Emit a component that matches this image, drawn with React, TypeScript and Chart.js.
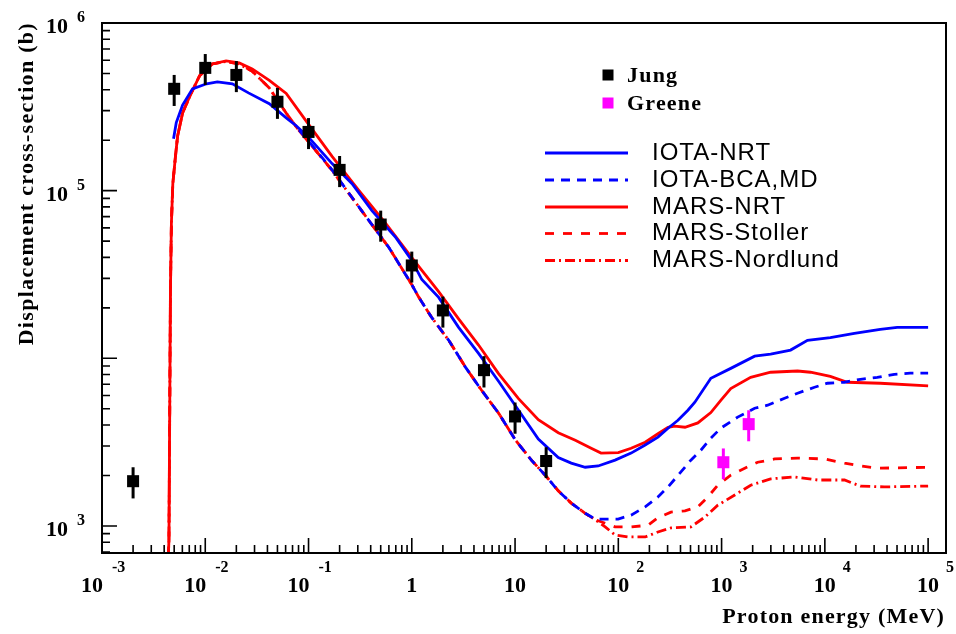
import { useEffect, useRef } from "react";
import { Chart, registerables } from "chart.js";

Chart.register(...registerables);

// ---------- data ----------
const jungX = [0.002, 0.005, 0.01, 0.02, 0.05, 0.1, 0.2, 0.5, 1, 2, 5, 10, 20];
const jungY = [1850, 405000, 540000, 490000, 339000, 224000, 133000, 62800, 35800, 19300, 8500, 4500, 2440];
const jungErr = [390, 85000, 113000, 103000, 71000, 47000, 28000, 13200, 7500, 4050, 1800, 950, 510];

const greeneX = [1040, 1830];
const greeneY = [2400, 4050];
const greeneErr = [500, 850];

const iotaNrtX = [4.93e-3, 5.24e-3, 6.03e-3, 7.52e-3, 0.0103, 0.0131, 0.0183, 0.0262, 0.0417, 0.0608, 0.0759, 0.101, 0.169, 0.264, 0.411, 0.701, 1.0, 1.25, 1.82, 2.84, 4.43, 6.92, 10.8, 16.8, 26.2, 35, 47.8, 63.8, 93, 133, 182, 242, 303, 378, 472, 551, 787, 1227, 2090, 2985, 4660, 6790, 11300, 19300, 34400, 50200, 100000];
const iotaNrtY = [2.04e5, 2.55e5, 3.24e5, 4.05e5, 4.34e5, 4.46e5, 4.34e5, 3.83e5, 3.3e5, 2.72e5, 2.44e5, 2.07e5, 1.45e5, 1.1e5, 7.6e4, 5.25e4, 3.83e4, 2.95e4, 2.31e4, 1.53e4, 1.07e4, 7.3e3, 4.9e3, 3.3e3, 2.56e3, 2.37e3, 2.24e3, 2.28e3, 2.47e3, 2.72e3, 3.04e3, 3.39e3, 3.83e3, 4.27e3, 4.9e3, 5.47e3, 7.6e3, 8.71e3, 1.03e4, 1.06e4, 1.12e4, 1.28e4, 1.33e4, 1.41e4, 1.49e4, 1.53e4, 1.53e4];

const iotaBcaX = [0.0811, 0.118, 0.169, 0.264, 0.385, 0.6, 0.75, 1.0, 1.17, 1.56, 2.28, 3.32, 4.74, 6.92, 10.1, 14.4, 20, 26.2, 35, 47.8, 59.7, 68.2, 99.6, 133, 182, 242, 303, 404, 504, 630, 787, 982, 1432, 2090, 2790, 4074, 5440, 7943, 10600, 15500, 22100, 32200, 47000, 67000, 100000];
const iotaBcaY = [2.3e5, 1.75e5, 1.33e5, 9.1e4, 6.62e4, 4.58e4, 3.67e4, 2.75e4, 2.31e4, 1.75e4, 1.28e4, 8.83e3, 6.45e3, 4.71e3, 3.25e3, 2.47e3, 1.98e3, 1.62e3, 1.37e3, 1.19e3, 1.1e3, 1.1e3, 1.1e3, 1.16e3, 1.3e3, 1.49e3, 1.71e3, 2.1e3, 2.47e3, 2.83e3, 3.34e3, 3.83e3, 4.46e3, 5.04e3, 5.25e3, 5.78e3, 6.19e3, 6.72e3, 7.1e3, 7.2e3, 7.5e3, 7.7e3, 8.03e3, 8.15e3, 8.15e3];

const marsNrtX = [4.3e-3, 4.45e-3, 4.6e-3, 4.7e-3, 4.85e-3, 5.15e-3, 5.4e-3, 6.03e-3, 7.1e-3, 8.8e-3, 0.0117, 0.0159, 0.0213, 0.0285, 0.0417, 0.0608, 0.095, 0.169, 0.308, 0.561, 1.0, 1.82, 2.84, 4.43, 6.92, 10.8, 16.8, 26.2, 38.3, 54.6, 68, 100, 133, 182, 242, 303, 353, 442, 589, 787, 982, 1227, 1914, 2985, 5440, 7266, 11300, 16500, 34400, 100000];
const marsNrtY = [500, 820, 2.5e4, 6.4e4, 1.1e5, 1.61e5, 2.12e5, 2.91e5, 3.67e5, 4.84e5, 5.7e5, 5.94e5, 5.78e5, 5.32e5, 4.55e5, 3.8e5, 2.6e5, 1.6e5, 1.0e5, 6.37e4, 3.99e4, 2.5e4, 1.72e4, 1.2e4, 8.1e3, 5.75e3, 4.3e3, 3.6e3, 3.25e3, 2.91e3, 2.72e3, 2.74e3, 2.91e3, 3.16e3, 3.55e3, 3.88e3, 3.94e3, 3.88e3, 4.12e3, 4.75e3, 5.62e3, 6.6e3, 7.7e3, 8.26e3, 8.4e3, 8.26e3, 7.8e3, 7.2e3, 7.1e3, 6.85e3];

const marsStollerX = [4.3e-3, 4.45e-3, 4.6e-3, 4.7e-3, 4.85e-3, 5.15e-3, 5.4e-3, 6.03e-3, 7.1e-3, 8.8e-3, 0.0117, 0.0159, 0.0213, 0.0285, 0.0417, 0.0608, 0.0811, 0.118, 0.169, 0.264, 0.385, 0.6, 0.75, 1.0, 1.17, 1.56, 2.28, 3.32, 4.74, 6.92, 10.1, 14.4, 20, 26.2, 35, 47.8, 59.7, 68, 93, 133, 194, 242, 323, 442, 589, 736, 918, 1227, 1675, 2236, 3266, 5440, 9910, 15500, 22100, 32200, 100000];
const marsStollerY = [500, 820, 2.5e4, 6.4e4, 1.1e5, 1.61e5, 2.12e5, 2.91e5, 3.67e5, 4.84e5, 5.7e5, 5.9e5, 5.7e5, 5.15e5, 4.1e5, 2.9e5, 2.28e5, 1.73e5, 1.32e5, 9.08e4, 6.62e4, 4.58e4, 3.67e4, 2.75e4, 2.31e4, 1.75e4, 1.28e4, 8.83e3, 6.45e3, 4.71e3, 3.25e3, 2.47e3, 1.98e3, 1.62e3, 1.37e3, 1.19e3, 1.09e3, 1.06e3, 987, 987, 1.01e3, 1.12e3, 1.21e3, 1.23e3, 1.3e3, 1.49e3, 1.75e3, 2.01e3, 2.21e3, 2.4e3, 2.51e3, 2.54e3, 2.51e3, 2.37e3, 2.28e3, 2.21e3, 2.24e3];

const marsNordlundX = [4.3e-3, 4.45e-3, 4.6e-3, 4.7e-3, 4.85e-3, 5.15e-3, 5.4e-3, 6.03e-3, 7.1e-3, 8.8e-3, 0.0117, 0.0159, 0.0213, 0.0285, 0.0417, 0.0608, 0.0811, 0.118, 0.169, 0.264, 0.385, 0.6, 0.75, 1.0, 1.17, 1.56, 2.28, 3.32, 4.74, 6.92, 10.1, 14.4, 20, 26.2, 35, 47.8, 59.7, 74.6, 93.1, 124, 182, 242, 323, 504, 689, 918, 1341, 1914, 2985, 5090, 8490, 15500, 22100, 37600, 100000];
const marsNordlundY = [500, 820, 2.5e4, 6.4e4, 1.1e5, 1.61e5, 2.12e5, 2.91e5, 3.67e5, 4.84e5, 5.7e5, 5.9e5, 5.7e5, 5.15e5, 4.1e5, 2.9e5, 2.28e5, 1.73e5, 1.32e5, 9.08e4, 6.62e4, 4.58e4, 3.67e4, 2.75e4, 2.31e4, 1.75e4, 1.28e4, 8.83e3, 6.45e3, 4.71e3, 3.25e3, 2.47e3, 1.98e3, 1.62e3, 1.37e3, 1.19e3, 1.09e3, 987, 884, 860, 860, 921, 973, 987, 1.13e3, 1.33e3, 1.53e3, 1.75e3, 1.91e3, 1.96e3, 1.88e3, 1.88e3, 1.73e3, 1.71e3, 1.73e3];

const xTickValues = [1e-3, 1e-2, 1e-1, 1, 10, 1e2, 1e3, 1e4, 1e5];
const xTickBase = ["10", "10", "10", "1", "10", "10", "10", "10", "10"];
const xTickExp = ["-3", "-2", "-1", "", "", "2", "3", "4", "5"];
const yTickValues = [1e3, 1e5, 1e6];
const yTickExp = ["3", "5", "6"];

const xTitle = "Proton energy (MeV)";
const yTitle = "Displacement cross-section (b)";

// ---------- helpers ----------
const pts = (xs: number[], ys: number[]) => xs.map((x, i) => ({ x, y: ys[i] }));

const SERIF = '"Liberation Serif", "DejaVu Serif", serif';
const SANS = '"Liberation Sans", Arial, sans-serif';

const decor = {
  id: "decor",
  afterDatasetsDraw(chart: any) {
    const ctx = chart.ctx as CanvasRenderingContext2D;
    const xs = chart.scales.x;
    const ys = chart.scales.y;
    const errs = (xv: number[], yv: number[], ev: number[], color: string) => {
      ctx.save();
      ctx.strokeStyle = color;
      ctx.lineWidth = 3;
      for (let i = 0; i < xv.length; i++) {
        const px = xs.getPixelForValue(xv[i]);
        const y1 = ys.getPixelForValue(yv[i] - ev[i]);
        const y2 = ys.getPixelForValue(yv[i] + ev[i]);
        ctx.beginPath();
        ctx.moveTo(px, y1);
        ctx.lineTo(px, y2);
        ctx.stroke();
      }
      ctx.restore();
    };
    errs(jungX, jungY, jungErr, "#000000");
    errs(greeneX, greeneY, greeneErr, "#ff00ff");
  },
  afterDraw(chart: any) {
    const ctx = chart.ctx as CanvasRenderingContext2D;
    const xs = chart.scales.x;
    const ys = chart.scales.y;
    const a = chart.chartArea;
    ctx.save();
    // frame
    ctx.strokeStyle = "#000";
    ctx.lineWidth = 2;
    ctx.strokeRect(a.left, a.top, a.right - a.left, a.bottom - a.top);

    // ticks
    ctx.lineWidth = 1.6;
    ctx.beginPath();
    for (let e = -3; e <= 5; e++) {
      for (let k = 1; k <= 9; k++) {
        const v = k * Math.pow(10, e);
        if (v < xs.min * 0.999 || v > xs.max) continue;
        const px = xs.getPixelForValue(v);
        const len = k === 1 ? 15 : 8;
        ctx.moveTo(px, a.bottom);
        ctx.lineTo(px, a.bottom - len);
      }
    }
    for (let e = 2; e <= 6; e++) {
      for (let k = 1; k <= 9; k++) {
        const v = k * Math.pow(10, e);
        if (v < ys.min || v > ys.max * 0.999) continue;
        const py = ys.getPixelForValue(v);
        const len = k === 1 ? 15 : 8;
        ctx.moveTo(a.left, py);
        ctx.lineTo(a.left + len, py);
      }
    }
    ctx.stroke();

    // x tick labels
    ctx.fillStyle = "#000";
    ctx.textBaseline = "alphabetic";
    for (let i = 0; i < xTickValues.length; i++) {
      const px = xs.getPixelForValue(xTickValues[i]);
      const exp = xTickExp[i];
      ctx.font = `bold 22px ${SERIF}`;
      const w = ctx.measureText(xTickBase[i]).width;
      const neg = exp.startsWith("-");
      const cx = exp === "" ? px : neg ? px - 10 : px;
      ctx.textAlign = "center";
      ctx.fillText(xTickBase[i], cx, 592);
      if (exp) {
        ctx.font = `bold 16px ${SERIF}`;
        ctx.textAlign = "left";
        ctx.fillText(exp, cx + w / 2 + (neg ? 9 : 7), 572);
      }
    }
    // y tick labels
    for (let i = 0; i < yTickValues.length; i++) {
      const py = ys.getPixelForValue(yTickValues[i]);
      ctx.font = `bold 22px ${SERIF}`;
      ctx.textAlign = "right";
      ctx.fillText("10", 68, py + 10);
      ctx.font = `bold 16px ${SERIF}`;
      ctx.textAlign = "left";
      ctx.fillText(yTickExp[i], 77, py - 1);
    }

    // axis titles
    ctx.font = `bold 22px ${SERIF}`;
    (ctx as any).letterSpacing = "1.2px";
    ctx.textAlign = "right";
    ctx.fillText(xTitle, 945, 623);
    ctx.save();
    ctx.translate(33, 22);
    ctx.rotate(-Math.PI / 2);
    (ctx as any).letterSpacing = "1.3px";
    ctx.textAlign = "right";
    ctx.fillText(yTitle, 0, 0);
    ctx.restore();

    // legend: data markers
    const ds = chart.data.datasets;
    const markerRows = [
      { d: ds[0], y: 75 },
      { d: ds[1], y: 103 },
    ];
    (ctx as any).letterSpacing = "1.2px";
    ctx.font = `bold 22px ${SERIF}`;
    ctx.textAlign = "left";
    for (const r of markerRows) {
      ctx.fillStyle = r.d.pointBackgroundColor;
      ctx.fillRect(608 - 5.5, r.y - 5.5, 11, 11);
      ctx.fillStyle = "#000";
      ctx.fillText(r.d.label, 627, r.y + 7);
    }
    // legend: lines
    (ctx as any).letterSpacing = "1px";
    ctx.font = `24px ${SANS}`;
    const lineRows = [153, 180, 207, 233.5, 260.5];
    for (let i = 0; i < 5; i++) {
      const d = ds[i + 2];
      const y = lineRows[i];
      ctx.save();
      ctx.strokeStyle = d.borderColor;
      ctx.lineWidth = d.borderWidth;
      ctx.setLineDash(d.borderDash || []);
      ctx.beginPath();
      ctx.moveTo(545, y);
      ctx.lineTo(628, y);
      ctx.stroke();
      ctx.restore();
      ctx.fillStyle = "#000";
      ctx.fillText(d.label, 652, y + 6.5);
    }
    (ctx as any).letterSpacing = "0px";
    ctx.restore();
  },
};

export default function App() {
  const ref = useRef<HTMLCanvasElement | null>(null);
  useEffect(() => {
    if (!ref.current) return;
    const lineDs = (label: string, xv: number[], yv: number[], color: string, dash: number[]) => ({
      label,
      data: pts(xv, yv),
      showLine: true,
      borderColor: color,
      backgroundColor: color,
      borderWidth: 2.8,
      borderDash: dash,
      pointRadius: 0,
      pointHoverRadius: 0,
      tension: 0,
      fill: false,
    });
    const chart = new Chart(ref.current, {
      type: "scatter",
      data: {
        datasets: [
          {
            label: "Jung",
            data: pts(jungX, jungY),
            showLine: false,
            pointStyle: "rect",
            pointRadius: 8.5,
            pointBackgroundColor: "#000000",
            pointBorderColor: "#000000",
            pointBorderWidth: 0,
          },
          {
            label: "Greene",
            data: pts(greeneX, greeneY),
            showLine: false,
            pointStyle: "rect",
            pointRadius: 8.5,
            pointBackgroundColor: "#ff00ff",
            pointBorderColor: "#ff00ff",
            pointBorderWidth: 0,
          },
          lineDs("IOTA-NRT", iotaNrtX, iotaNrtY, "#0000ff", []),
          lineDs("IOTA-BCA,MD", iotaBcaX, iotaBcaY, "#0000ff", [9, 7]),
          lineDs("MARS-NRT", marsNrtX, marsNrtY, "#ff0000", []),
          lineDs("MARS-Stoller", marsStollerX, marsStollerY, "#ff0000", [9, 9]),
          lineDs("MARS-Nordlund", marsNordlundX, marsNordlundY, "#ff0000", [10, 4, 2, 4]),
        ] as any,
      },
      options: {
        animation: false,
        responsive: false,
        events: [],
        layout: { padding: { top: 23, right: 10, left: 0, bottom: 0 } },
        plugins: { legend: { display: false }, tooltip: { enabled: false } },
        scales: {
          x: {
            type: "logarithmic",
            min: 1e-3,
            max: 1.49e5,
            ticks: { display: false },
            grid: { display: false },
            border: { display: false },
            afterFit: (s: any) => {
              s.height = 81;
            },
          },
          y: {
            type: "logarithmic",
            min: 690,
            max: 1e6,
            ticks: { display: false },
            grid: { display: false },
            border: { display: false },
            afterFit: (s: any) => {
              s.width = 102;
            },
          },
        },
      } as any,
      plugins: [decor],
    });
    return () => chart.destroy();
  }, []);
  return (
    <canvas
      ref={ref}
      width={956}
      height={634}
      style={{ position: "fixed", left: 0, top: 0, display: "block", background: "#fff" }}
    />
  );
}
